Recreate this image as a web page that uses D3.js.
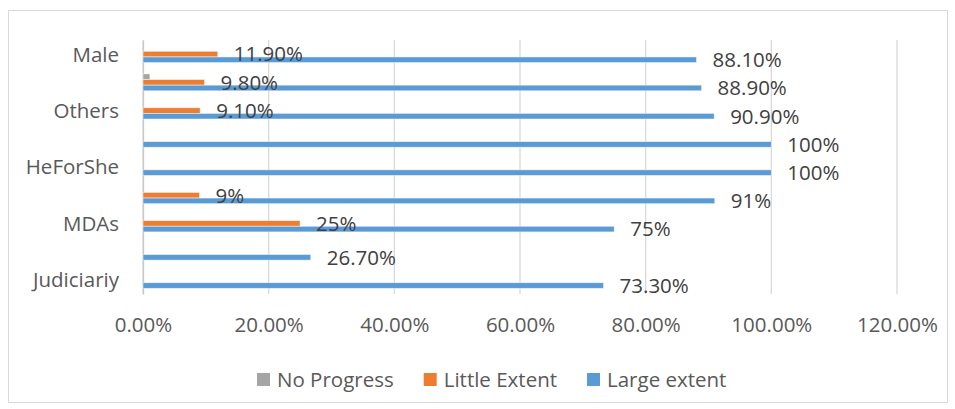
<!DOCTYPE html>
<html>
<head>
<meta charset="utf-8">
<script src="https://cdn.jsdelivr.net/npm/d3@7"></script>
<style>
  html, body { margin: 0; padding: 0; background: #fff; }
  svg { display: block; font-family: "Open Sans", sans-serif; }
</style>
</head>
<body>
<svg id="chart" width="955" height="409"></svg>
<script>
// ---- data (top to bottom) ----
const categories = ["Male", "", "Others", "", "HeForShe", "", "MDAs", "", "Judiciariy"];
const seriesNames = ["No Progress", "Little Extent", "Large extent"];
const noProgress   = [null, 1.1, null, null, null, null, null, null, null];
const littleExtent = [11.9, 9.8, 9.1, null, null, 9, 25, null, null];
const largeExtent  = [88.1, 88.9, 90.9, 100, 100, 91, 75, 26.7, 73.3];
const noProgressLabels   = [null, null, null, null, null, null, null, null, null];
const littleExtentLabels = ["11.90%", "9.80%", "9.10%", null, null, "9%", "25%", null, null];
const largeExtentLabels  = ["88.10%", "88.90%", "90.90%", "100%", "100%", "91%", "75%", "26.70%", "73.30%"];
const xTicks = [0, 20, 40, 60, 80, 100, 120];
const xTickLabels = ["0.00%", "20.00%", "40.00%", "60.00%", "80.00%", "100.00%", "120.00%"];

const seriesValues = [noProgress, littleExtent, largeExtent];
const seriesLabels = [noProgressLabels, littleExtentLabels, largeExtentLabels];
const colors = ["#a5a5a5", "#ed7d31", "#5b9bd5"];

const svg = d3.select("#chart");
const fontSize = 20.5;

// chart border
svg.append("rect").attr("x", 8.5).attr("y", 10.5).attr("width", 939).attr("height", 392)
  .attr("fill", "#fff").attr("stroke", "#d9d9d9").attr("stroke-width", 1);

const plot = { left: 143, right: 897, top: 40, bottom: 294 };

const x = d3.scaleLinear().domain([0, 120]).range([plot.left, plot.right]);
const y = d3.scaleBand().domain(d3.range(categories.length)).range([plot.top, plot.bottom]).padding(0);
const ySub = d3.scaleBand().domain(d3.range(seriesNames.length)).range([0, y.bandwidth()])
  .paddingInner(0).paddingOuter(1);

// gridlines
svg.append("g").selectAll("line").data(xTicks).join("line")
  .attr("x1", d => x(d)).attr("x2", d => x(d))
  .attr("y1", plot.top).attr("y2", plot.bottom)
  .attr("stroke", "#d9d9d9").attr("stroke-width", 1.3);

// x axis (labels only)
const xAxis = d3.axisBottom(x).tickValues(xTicks).tickSize(0)
  .tickFormat((d, i) => xTickLabels[i]);
const gx = svg.append("g").attr("transform", `translate(0,${plot.bottom})`).call(xAxis);
gx.select(".domain").remove();
gx.selectAll("text").attr("font-size", fontSize).attr("font-family", "Open Sans")
  .attr("fill", "#595959").attr("dy", null).attr("y", 38);

// y axis
const yAxis = d3.axisLeft(y).tickSize(0).tickPadding(24).tickFormat(i => categories[i]);
const gy = svg.append("g").attr("transform", `translate(${plot.left},0)`).call(yAxis);
gy.select(".domain").attr("stroke", "#c8c8c8").attr("stroke-width", 1.3);
gy.selectAll("text").attr("font-size", fontSize).attr("font-family", "Open Sans")
  .attr("fill", "#595959").attr("dy", "0.36em");

// bars
const bars = [];
seriesValues.forEach((vals, s) => {
  vals.forEach((v, i) => {
    if (v !== null) bars.push({ s, i, v, label: seriesLabels[s][i] });
  });
});

svg.append("g").selectAll("rect").data(bars).join("rect")
  .attr("x", x(0))
  .attr("y", d => y(d.i) + ySub(d.s))
  .attr("width", d => x(d.v) - x(0))
  .attr("height", ySub.bandwidth())
  .attr("fill", d => colors[d.s])
  .attr("stroke", "#ffffff").attr("stroke-opacity", 0.6).attr("stroke-width", 0.8);

// data labels
svg.append("g").selectAll("text").data(bars.filter(d => d.label)).join("text")
  .attr("x", d => x(d.v) + 16)
  .attr("y", d => y(d.i) + ySub(d.s) + ySub.bandwidth() / 2)
  .attr("dy", "0.36em")
  .attr("font-size", fontSize)
  .attr("fill", "#404040")
  .text(d => d.label);

// legend
const legend = svg.append("g");
let lx = 257;
const ly = 373;
seriesNames.forEach((name, s) => {
  legend.append("rect").attr("x", lx).attr("y", ly).attr("width", 13).attr("height", 13)
    .attr("fill", colors[s]);
  const t = legend.append("text").attr("x", lx + 20).attr("y", ly + 6.5).attr("dy", "0.36em")
    .attr("font-size", fontSize).attr("fill", "#595959").text(name);
  lx += 20 + t.node().getComputedTextLength() + 30;
});
</script>
</body>
</html>
